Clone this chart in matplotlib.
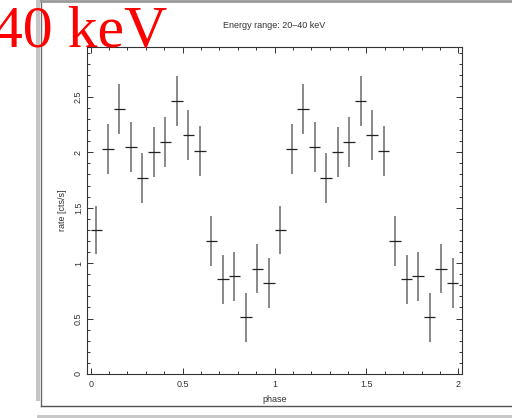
import numpy as np
import matplotlib
matplotlib.use("Agg")
import matplotlib.pyplot as plt
from matplotlib.patches import Rectangle
from matplotlib.lines import Line2D
from matplotlib.ticker import MultipleLocator

# ---- data (folded light curve, 16 phase bins, shown over two cycles) ----
bin_phase = [0.03125, 0.09375, 0.15625, 0.21875, 0.28125, 0.34375, 0.40625, 0.46875,
             0.53125, 0.59375, 0.65625, 0.71875, 0.78125, 0.84375, 0.90625, 0.96875]
bin_rate = [1.30, 2.03, 2.39, 2.05, 1.77, 2.00, 2.09, 2.46,
            2.16, 2.01, 1.20, 0.855, 0.88, 0.51, 0.95, 0.82]
bin_err = [0.22, 0.225, 0.225, 0.225, 0.225, 0.225, 0.225, 0.225,
           0.225, 0.225, 0.223, 0.222, 0.224, 0.223, 0.223, 0.223]
bin_halfwidth = 0.03125
n_cycles = 2

title_text = "Energy range: 20\u201340 keV"
xlabel_text = "phase"
ylabel_text = "rate [cts/s]"
slide_text = "40 keV"

phase = np.concatenate([np.array(bin_phase) + c for c in range(n_cycles)])
rate = np.tile(bin_rate, n_cycles)
err = np.tile(bin_err, n_cycles)

W, H = 512, 418
fig = plt.figure(figsize=(W / 100, H / 100), dpi=100)
plt.rcParams['font.family'] = ['Liberation Sans', 'DejaVu Sans']

def fx(px):
    return px / W

def fy(py):
    return 1 - py / H

# axes box in pixels: left 87, right 462, top 47, bottom 374
ax = fig.add_axes([fx(87), fy(374), fx(462) - fx(87), fy(47) - fy(374)])

# vertical error bars (gray), horizontal bin widths (dark)
ax.vlines(phase, rate - err, rate + err, color="#808080", lw=1.3, zorder=2)
ax.hlines(rate, phase - bin_halfwidth, phase + bin_halfwidth, color="#222222", lw=0.9, zorder=3)

ax.set_xlim(-0.02, 2.02)
ax.set_ylim(0, 2.95)
ax.xaxis.set_major_locator(MultipleLocator(0.5))
ax.xaxis.set_minor_locator(MultipleLocator(0.1))
ax.yaxis.set_major_locator(MultipleLocator(0.5))
ax.yaxis.set_minor_locator(MultipleLocator(0.1))
ax.set_xticks([0, 0.5, 1, 1.5, 2])
ax.set_xticklabels(["0", "0.5", "1", "1.5", "2"])
ax.set_yticks([0, 0.5, 1, 1.5, 2, 2.5])
ax.set_yticklabels(["0", "0.5", "1", "1.5", "2", "2.5"])

ax.tick_params(which="both", direction="in", top=True, right=True,
               color="#333333", width=0.7, labelsize=6.5, labelcolor="#333333")
ax.tick_params(which="major", length=4.5)
ax.tick_params(axis="x", which="major", pad=4.5)
ax.tick_params(axis="y", which="major", pad=3)
ax.tick_params(which="minor", length=2.2)
for lab in ax.get_yticklabels():
    lab.set_rotation(90)
    lab.set_va("center")
for s in ax.spines.values():
    s.set_color("#333333")
    s.set_linewidth(0.8)

ax.set_title(title_text, fontsize=6.5, color="#333333", pad=14)
ax.set_xlabel(xlabel_text, fontsize=6.5, color="#333333", labelpad=4)
ax.set_ylabel(ylabel_text, fontsize=6.5, color="#333333", labelpad=5)

# ---- slide decorations around the embedded figure ----
fig.add_artist(Rectangle((fx(36), fy(401)), fx(40) - fx(36), fy(0) - fy(401),
                         transform=fig.transFigure, color="#c4c4c4", lw=0, zorder=1))
fig.add_artist(Line2D([fx(41), fx(41)], [fy(406), fy(0)], transform=fig.transFigure,
                      color="#6a6a6a", lw=1.0, zorder=1))
fig.add_artist(Line2D([fx(41), fx(512)], [fy(406), fy(406)], transform=fig.transFigure,
                      color="#555555", lw=1.0, zorder=1))
fig.add_artist(Line2D([fx(41), fx(512)], [fy(1), fy(1)], transform=fig.transFigure,
                      color="#999999", lw=2.0, zorder=1))
fig.add_artist(Rectangle((fx(37), fy(418)), fx(512) - fx(37), fy(415) - fy(418),
                         transform=fig.transFigure, color="#c8c8c8", lw=0, zorder=1))

fig.text(fx(167), fy(47), slide_text, color="red", fontsize=43,
         family=["Liberation Serif", "DejaVu Serif"], ha="right", va="baseline", zorder=10)

fig.savefig("out.png", dpi=100)
